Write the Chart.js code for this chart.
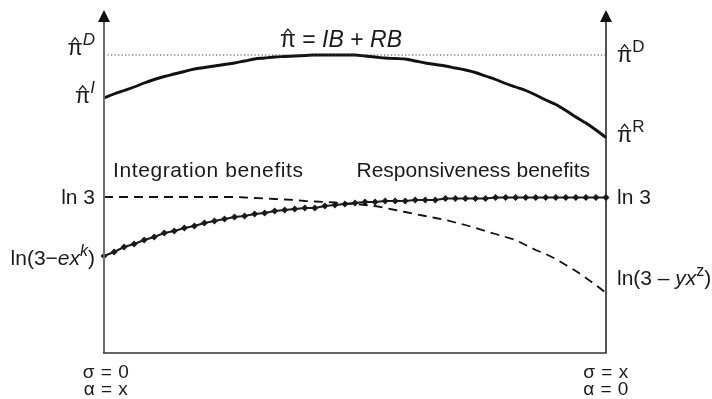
<!DOCTYPE html>
<html>
<head>
<meta charset="utf-8">
<script src="https://cdn.jsdelivr.net/npm/chart.js@4.4.1/dist/chart.umd.min.js"></script>
<style>
  html, body { margin: 0; padding: 0; background: #fff; }
</style>
</head>
<body>
<canvas id="chart" width="712" height="399"></canvas>
<script>
// x: steps from sigma = 0 (left axis) to sigma = x (right axis)
const steps = [0,1,2,3,4,5,6,7,8,9,10,11,12,13,14,15,16,17,18,19,20,21,22,23,24,25,
  26,27,28,29,30,31,32,33,34,35,36,37,38,39,40,41,42,43,44,45,46,47,48,49,50];

// total payoff pi-hat = IB + RB (solid upper curve)
const payoff = [255,259,262.5,266,270,273.5,276.5,279,281.5,284,285.5,287,288.5,290,292,294,295,296,296.5,297,
  297.5,298,298,298,298,298,297,296,295,294.5,294,292,290,288.5,287,285,283,280.5,277,273.5,
  269.5,266,262.5,258,253,248.5,242.5,236,230,223,215.5];

// integration benefits ln(3 - e x^k) (line with diamond markers)
const integration = [97,101,106,109,113,116,120,122,125,127,130,132,134,136,137,139,140,142,143,144,
  145,145,147,148,149,150,151,151,152,152,152,153,153,153,154.5,154.5,154.5,154.5,154.5,155.5,
  155.5,155.5,155.5,155.5,155.5,155.5,155.5,155.5,155.5,155.5,155.5];

// responsiveness benefits ln(3 - y x^z) (dashed)
const responsiveness = [156,156,156,156,156,156,156,156,156,156,156,156,156,156,155.5,155,154.5,154,153.5,153,
  152,151.5,151,150.5,149.5,149,148,147,145,143,141,139,137,135,133,130.5,128,125,122,119,
  116,113,108,103,99,94,88,82,75,68,60];

// reference levels
const piD = 298;
const ln3 = 156;
const yMax = 343;

const FONT = '"Liberation Sans", Arial, Helvetica, sans-serif';

// draws a run of text pieces: [text, style], style: '', 'i', 'sup', 'supi', 'pi'
function rich(ctx, parts, x, y, align, size) {
  const supSize = Math.round(size * 0.76);
  const fontOf = st => {
    const sup = st.startsWith('sup');
    const it = st === 'i' || st === 'supi';
    return (it ? 'italic ' : '') + (sup ? supSize : size) + 'px ' + FONT;
  };
  let total = 0;
  const widths = parts.map(([t, st]) => {
    ctx.font = fontOf(st);
    const w = ctx.measureText(t).width;
    total += w;
    return w;
  });
  let cx = align === 'right' ? x - total : align === 'center' ? x - total / 2 : x;
  ctx.textAlign = 'left';
  ctx.textBaseline = 'alphabetic';
  parts.forEach(([t, st], i) => {
    ctx.font = fontOf(st);
    const dy = st.startsWith('sup') ? -size * 0.45 : 0;
    ctx.fillText(t, cx, y + dy);
    if (st === 'pi') {
      // circumflex over the pi
      const mx = cx + widths[i] / 2, top = y - size * 0.78;
      ctx.save();
      ctx.lineWidth = 1.3;
      ctx.strokeStyle = ctx.fillStyle;
      ctx.beginPath();
      ctx.moveTo(mx - 3.6, top + 4.5);
      ctx.lineTo(mx, top);
      ctx.lineTo(mx + 3.6, top + 4.5);
      ctx.stroke();
      ctx.restore();
    }
    cx += widths[i];
  });
}

const decor = {
  id: 'decor',
  afterDatasetsDraw(chart) {
    const { ctx, chartArea: a, scales } = chart;
    const yp = v => scales.y.getPixelForValue(v);
    ctx.save();

    // axes
    ctx.lineCap = 'butt';
    ctx.strokeStyle = '#6e6e6e';
    ctx.lineWidth = 2;
    ctx.beginPath(); ctx.moveTo(a.left, a.bottom); ctx.lineTo(a.left, a.top + 10); ctx.stroke();
    ctx.strokeStyle = '#1a1a1a';
    ctx.lineWidth = 1.5;
    ctx.beginPath(); ctx.moveTo(a.right, a.bottom); ctx.lineTo(a.right, a.top + 10); ctx.stroke();
    ctx.strokeStyle = '#333';
    ctx.beginPath(); ctx.moveTo(a.left - 1, a.bottom); ctx.lineTo(a.right + 0.75, a.bottom); ctx.stroke();

    // arrow heads
    ctx.fillStyle = '#111';
    [a.left, a.right].forEach(x => {
      ctx.beginPath();
      ctx.moveTo(x, a.top);
      ctx.lineTo(x + 6, a.top + 12);
      ctx.lineTo(x - 6, a.top + 12);
      ctx.closePath();
      ctx.fill();
    });

    ctx.fillStyle = '#1a1a1a';
    const L = a.left - 9, R = a.right + 11;
    // left axis labels
    rich(ctx, [['π', 'pi'], ['D', 'supi']], L, yp(piD), 'right', 22);
    rich(ctx, [['π', 'pi'], ['I', 'supi']], L, yp(payoff[0]) + 5, 'right', 22);
    rich(ctx, [['ln 3', '']], L, yp(ln3) + 7, 'right', 21);
    rich(ctx, [['ln(3\u2212', ''], ['ex', 'i'], ['k', 'supi'], [')', '']], L, yp(integration[0]) + 9, 'right', 21);
    // right axis labels
    rich(ctx, [['π', 'pi'], ['D', 'sup']], R, yp(piD) + 7, 'left', 22);
    rich(ctx, [['π', 'pi'], ['R', 'sup']], R, yp(payoff[50]) + 4, 'left', 22);
    rich(ctx, [['ln 3', '']], R, yp(ln3) + 7, 'left', 21);
    rich(ctx, [['ln(3 \u2013 ', ''], ['yx', 'i'], ['z', 'sup'], [')', '']], R, yp(responsiveness[50]) - 8, 'left', 21);
    // curve titles
    rich(ctx, [['π', 'pi'], [' = ', ''], ['IB', 'i'], [' + ', ''], ['RB', 'i']], 280, 47, 'left', 23);
    ctx.letterSpacing = '0.6px';
    rich(ctx, [['Integration benefits', '']], a.left + 9, 177, 'left', 21);
    ctx.letterSpacing = '0px';
    rich(ctx, [['Responsiveness benefits', '']], a.right - 16, 177, 'right', 21);
    // bottom labels
    ctx.font = '19px ' + FONT;
    ctx.letterSpacing = '0.5px';
    ctx.textAlign = 'center';
    ctx.fillText('\u03c3 = 0', a.left + 2, 378);
    ctx.fillText('\u03b1 = x', a.left + 2, 395);
    ctx.fillText('\u03c3 = x', a.right, 378);
    ctx.fillText('\u03b1 = 0', a.right, 395);
    ctx.restore();
  }
};

new Chart(document.getElementById('chart'), {
  type: 'line',
  data: {
    labels: steps,
    datasets: [
      { label: 'piD', data: steps.map(() => piD), borderColor: '#3a3a3a', borderWidth: 1.2,
        borderDash: [1.2, 2.3], pointRadius: 0 },
      { label: 'IB + RB', data: payoff, borderColor: '#111', borderWidth: 2.9,
        pointRadius: 0, cubicInterpolationMode: 'monotone' },
      { label: 'RB', data: responsiveness, borderColor: '#111', borderWidth: 1.8,
        borderDash: [9, 6], pointRadius: 0 },
      { label: 'IB', data: integration, borderColor: '#1a1a1a', borderWidth: 2,
        pointStyle: 'rectRot', pointRadius: 3.5, pointBackgroundColor: '#1a1a1a',
        pointBorderWidth: 0 },
    ],
  },
  options: {
    responsive: false,
    animation: false,
    devicePixelRatio: 1,
    layout: { padding: { left: 104, right: 106, top: 10, bottom: 46 } },
    plugins: { legend: { display: false }, tooltip: { enabled: false } },
    scales: {
      x: { display: false, offset: false },
      y: { display: false, min: 0, max: yMax },
    },
  },
  plugins: [decor],
});
</script>
</body>
</html>
